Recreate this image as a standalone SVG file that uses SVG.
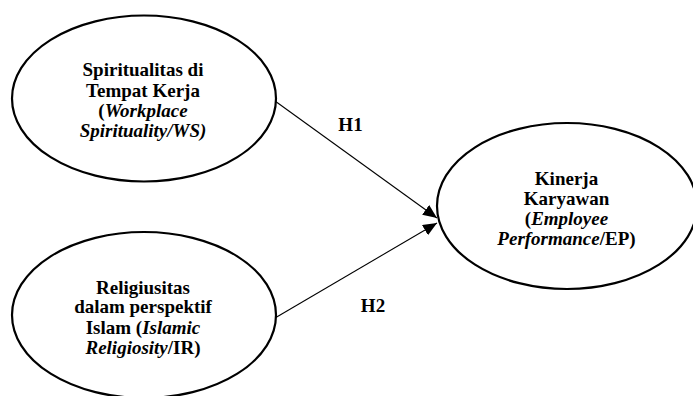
<svg xmlns="http://www.w3.org/2000/svg" width="693" height="396" viewBox="0 0 693 396">
<style>
.node{fill:#fff;stroke:#000;stroke-width:2.2}
.t{font-family:"Liberation Serif","Times New Roman",serif;font-size:19px;font-weight:bold;fill:#000;text-anchor:middle}
.i{font-style:italic}
.edge{stroke:#000;stroke-width:1.1;fill:none}
</style>
<defs>
<marker id="ah" viewBox="0 0 14 12" refX="14" refY="6" markerWidth="14" markerHeight="12" markerUnits="userSpaceOnUse" orient="auto">
<path d="M0,0 L14,6 L0,12 Z" fill="#000"/>
</marker>
</defs>
<rect width="693" height="396" fill="#fff"/>
<g id="connectors">
<line class="edge" x1="275" y1="101" x2="437" y2="218" marker-end="url(#ah)"/>
<line class="edge" x1="275" y1="318" x2="437" y2="223" marker-end="url(#ah)"/>
<text class="t" x="350.5" y="131">H1</text>
<text class="t" x="373" y="312">H2</text>
</g>
<g id="ws">
<ellipse class="node" cx="144" cy="98.5" rx="132" ry="83"/>
<text class="t" x="143" y="76">Spiritualitas di</text>
<text class="t" x="143" y="96.5">Tempat Kerja</text>
<text class="t" x="143" y="117">(<tspan class="i">Workplace</tspan></text>
<text class="t i" x="143" y="137">Spirituality/WS)</text>
</g>
<g id="ir">
<ellipse class="node" cx="144" cy="315" rx="132" ry="83"/>
<text class="t" x="143" y="293.5">Religiusitas</text>
<text class="t" x="143" y="313">dalam perspektif</text>
<text class="t" x="143" y="333.5">Islam (<tspan class="i">Islamic</tspan></text>
<text class="t" x="143" y="353.5"><tspan class="i">Religiosity</tspan>/IR)</text>
</g>
<g id="ep">
<ellipse class="node" cx="567" cy="206" rx="130" ry="83"/>
<text class="t" x="566.5" y="185">Kinerja</text>
<text class="t" x="566.5" y="204.5">Karyawan</text>
<text class="t" x="566.5" y="224.5">(<tspan class="i">Employee</tspan></text>
<text class="t" x="566.5" y="245"><tspan class="i">Performance</tspan>/EP)</text>
</g>
</svg>
